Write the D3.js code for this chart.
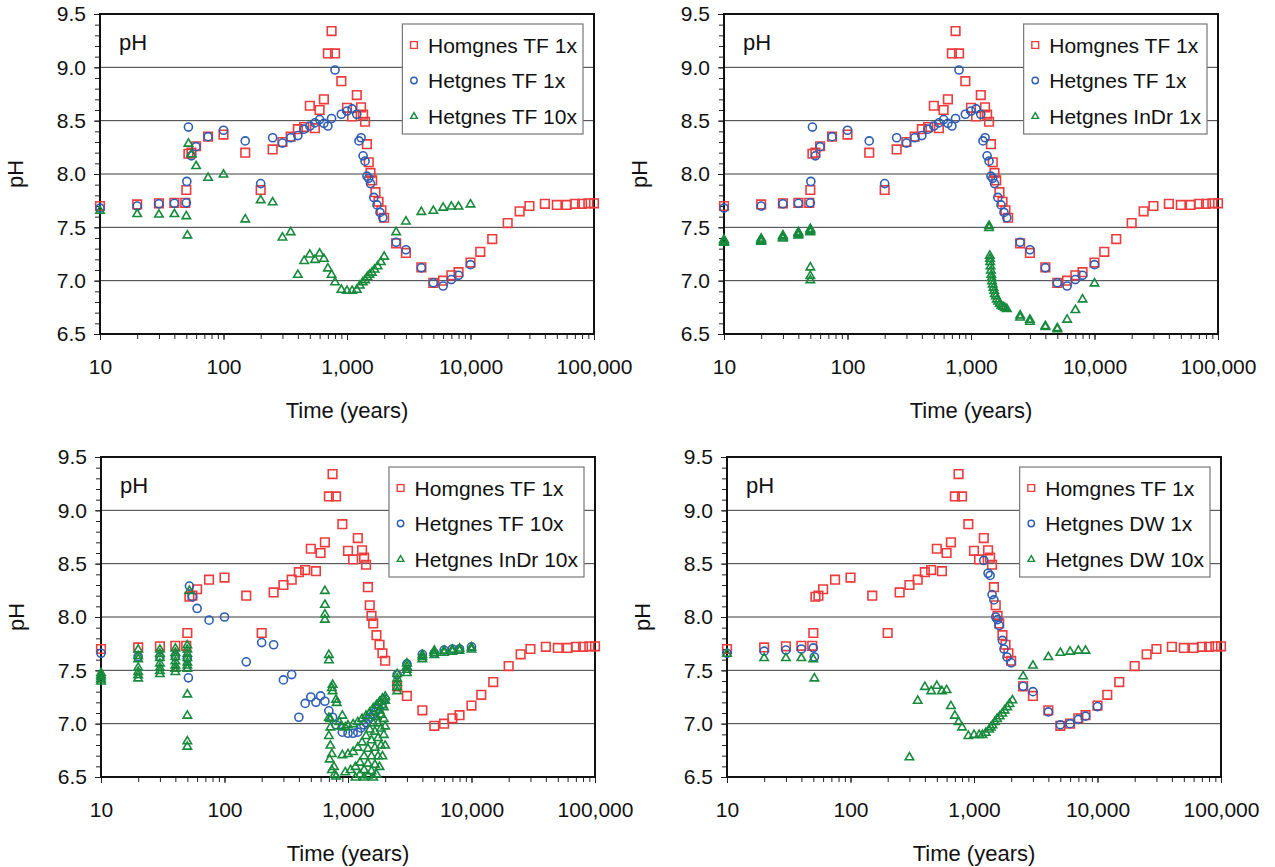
<!DOCTYPE html>
<html>
<head>
<meta charset="utf-8">
<script src="https://cdn.jsdelivr.net/npm/d3@7"></script>
<style>
  html, body { margin: 0; padding: 0; background: #fff; }
  svg { display: block; font-family: "Liberation Sans", Arial, sans-serif; }
</style>
</head>
<body>
<svg id="chart" width="1275" height="867"></svg>
<script>
// ---- axis definitions ----
const xMajorTicks = [10, 100, 1000, 10000, 100000];
const yMajorTicks = [6.5, 7.0, 7.5, 8.0, 8.5, 9.0, 9.5];
const yGridLines = [7.0, 7.5, 8.0, 8.5, 9.0];
const xTitle = "Time (years)";
const yTitle = "pH";

// ---- series: [time (years), pH] ----
const homTF1x = [
  [10,7.70],[20,7.715],[30,7.725],[40,7.73],[49,7.73],[50,7.85],[52,8.19],[55,8.20],[60,8.26],[75,8.35],
  [100,8.37],[150,8.20],[200,7.85],[250,8.23],[300,8.30],[350,8.35],[400,8.42],[450,8.44],[500,8.64],[550,8.43],
  [600,8.60],[650,8.70],[700,9.13],[750,9.34],[800,9.13],[900,8.87],[1000,8.62],[1100,8.54],[1200,8.74],[1300,8.625],
  [1350,8.556],[1400,8.49],[1450,8.28],[1500,8.11],[1550,8.01],[1600,7.94],[1700,7.83],[1800,7.74],[1900,7.66],[2000,7.59],
  [2500,7.35],[3000,7.26],[4000,7.125],[5000,6.98],[6000,7.00],[7000,7.05],[8000,7.08],[10000,7.17],[12000,7.27],[15000,7.39],
  [20000,7.54],[25000,7.65],[30000,7.70],[40000,7.72],[50000,7.71],[60000,7.71],[70000,7.72],[80000,7.72],[90000,7.725],[100000,7.725]
];

const hetTF1x = [
  [10,7.68],[20,7.70],[30,7.72],[40,7.725],[50,7.73],[50.5,7.93],[52,8.44],[55,8.17],[60,8.256],[75,8.35],
  [100,8.41],[150,8.31],[200,7.91],[250,8.34],[300,8.29],[350,8.34],[400,8.36],[450,8.42],[500,8.45],[550,8.48],
  [600,8.51],[650,8.475],[700,8.45],[750,8.52],[800,8.975],[900,8.56],[1000,8.59],[1100,8.61],[1200,8.56],[1250,8.31],
  [1300,8.34],[1350,8.17],[1400,8.12],[1450,7.98],[1500,7.96],[1550,7.91],[1650,7.78],[1750,7.71],[1850,7.64],[1950,7.59],
  [2500,7.36],[3000,7.29],[4000,7.12],[5000,6.98],[6000,6.95],[7000,7.01],[8000,7.05],[10000,7.15]
];

const hetTF10x = [
  [10,7.66],[20,7.63],[30,7.625],[40,7.63],[50,7.61],[51,7.43],[52,8.29],[55,8.19],[60,8.08],[75,7.97],
  [100,8.00],[150,7.58],[200,7.76],[250,7.74],[300,7.41],[350,7.46],[400,7.06],[450,7.19],[500,7.25],[550,7.20],
  [600,7.26],[650,7.21],[700,7.12],[750,7.06],[800,6.99],[900,6.92],[1000,6.91],[1100,6.91],[1200,6.92],[1270,6.96],
  [1340,6.99],[1400,7.01],[1460,7.04],[1520,7.06],[1590,7.08],[1670,7.11],[1770,7.14],[1880,7.18],[2000,7.23],[2500,7.46],
  [3000,7.56],[4000,7.65],[5000,7.66],[6000,7.69],[7000,7.70],[8000,7.70],[10000,7.72]
];

const hetInDr1x = [
  [10,7.36],[10,7.37],[10,7.38],[10,7.39],[20,7.37],[20,7.38],[20,7.39],[20,7.40],
  [30,7.40],[30,7.41],[30,7.42],[30,7.43],[40,7.43],[40,7.44],[40,7.45],[40,7.46],
  [50,7.46],[50,7.47],[50,7.48],[50,7.49],[50,7.13],[50,7.05],[50,7.01],
  [1400,7.50],[1400,7.52],[1420,7.24],[1425,7.21],[1430,7.18],[1440,7.14],[1450,7.10],[1460,7.06],[1470,7.03],
  [1480,7.00],[1500,6.97],[1520,6.94],[1540,6.91],[1560,6.88],[1590,6.86],[1620,6.83],[1660,6.81],[1710,6.79],
  [1760,6.77],[1820,6.76],[1880,6.75],[1950,6.74],[2500,6.68],[2500,6.66],[3000,6.64],[3000,6.62],
  [4000,6.58],[4000,6.57],[5000,6.56],[5000,6.55],[6000,6.64],[7000,6.73],[8000,6.83],[10000,6.98]
];

const hetInDr10x = [
  [10,7.40],[10,7.42],[10,7.44],[10,7.46],[10,7.48],
  [20,7.70],[20,7.64],[20,7.61],[20,7.53],[20,7.49],[20,7.46],[20,7.43],
  [30,7.70],[30,7.66],[30,7.62],[30,7.57],[30,7.53],[30,7.50],[30,7.47],
  [40,7.71],[40,7.67],[40,7.63],[40,7.59],[40,7.55],[40,7.52],[40,7.49],
  [50,7.74],[50,7.70],[50,7.66],[50,7.62],[50,7.58],[50,7.55],[50,7.52],[50,7.28],[50,7.08],[50,6.84],[50,6.79],[52,8.25],
  [650,8.25],[650,8.12],[650,8.03],[650,7.98],[700,7.65],[700,7.60],
  [750,7.37],[740,7.34],[750,7.31],[800,7.23],[810,7.20],
  [700,7.06],[720,7.05],[720,6.97],[700,6.89],[720,6.80],[740,6.72],[710,6.67],[740,6.57],[770,6.60],[800,6.51],[780,6.53],
  [900,7.08],[850,7.02],[880,6.98],[950,6.97],[1000,6.99],[1100,7.00],[1200,7.02],[1300,7.05],[1400,7.08],[1500,7.11],
  [1600,7.15],[1700,7.18],[1800,7.21],[1900,7.24],[2000,7.26],
  [900,6.71],[1000,6.72],[1100,6.74],[1200,6.78],[1300,6.83],[1400,6.89],[1500,6.95],[1600,7.01],[1700,7.07],[1800,7.13],
  [1900,7.18],[2000,7.22],
  [950,6.55],[1050,6.57],[1150,6.60],[1250,6.64],[1350,6.70],[1450,6.77],[1550,6.85],[1650,6.93],[1750,7.01],[1850,7.09],[1950,7.16],
  [1150,6.50],[1250,6.53],[1350,6.57],[1450,6.63],[1550,6.70],[1650,6.78],[1750,6.87],[1850,6.96],[1950,7.05],
  [1350,6.50],[1450,6.52],[1550,6.56],[1650,6.62],[1750,6.70],[1850,6.80],[1950,6.90],[2000,6.98],
  [1600,6.50],[1700,6.53],[1800,6.60],[1900,6.70],[2000,6.80],
  [2500,7.31],[2500,7.35],[2500,7.39],[2500,7.43],[2500,7.47],
  [3000,7.48],[3000,7.51],[3000,7.54],[3000,7.57],
  [4000,7.61],[4000,7.63],[4000,7.65],[5000,7.65],[5000,7.67],[5000,7.69],
  [6000,7.67],[6000,7.69],[7000,7.68],[7000,7.70],[8000,7.69],[8000,7.71],[10000,7.70],[10000,7.72]
];

const hetDW1x = [
  [10,7.66],[20,7.68],[30,7.69],[40,7.70],[50,7.71],[51,7.625],
  [1200,8.53],[1300,8.41],[1350,8.39],[1400,8.21],[1450,8.16],[1500,8.00],[1550,7.975],[1600,7.92],[1700,7.78],
  [1750,7.70],[1850,7.625],[2000,7.57],[2500,7.35],[3000,7.30],[4000,7.11],[5000,6.99],[6000,7.00],[7000,7.04],
  [8000,7.07],[10000,7.16]
];

const hetDW10x = [
  [10,7.66],[20,7.62],[30,7.62],[40,7.62],[50,7.61],[51,7.43],
  [300,6.69],[350,7.22],[400,7.35],[450,7.31],[500,7.36],[550,7.31],[600,7.32],[650,7.17],[700,7.08],[750,7.02],
  [800,6.97],[900,6.89],[1000,6.90],[1100,6.90],[1170,6.90],[1245,6.92],[1325,6.95],[1366,6.97],[1410,6.99],[1473,7.02],
  [1538,7.05],[1614,7.075],[1694,7.10],[1768,7.13],[1856,7.16],[1940,7.19],[2046,7.225],
  [2500,7.45],[3000,7.55],[4000,7.63],[5000,7.67],[6000,7.68],[7000,7.69],[8000,7.69]
];

// ---- legend labels for each panel ----
const legendTopLeft = ["Homgnes TF 1x", "Hetgnes TF 1x", "Hetgnes TF 10x"];
const legendTopRight = ["Homgnes TF 1x", "Hetgnes TF 1x", "Hetgnes InDr 1x"];
const legendBottomLeft = ["Homgnes TF 1x", "Hetgnes TF 10x", "Hetgnes InDr 10x"];
const legendBottomRight = ["Homgnes TF 1x", "Hetgnes DW 1x", "Hetgnes DW 10x"];

// ---- styling ----
const RED = "#ee3b3b", BLUE = "#2d5eb3", GREEN = "#178a3b";
const W = 494, H = 320;

const panels = [
  { left: 100, top: 14, series: [[homTF1x, "square"], [hetTF1x, "circle"], [hetTF10x, "triangle"]], legend: legendTopLeft },
  { left: 724, top: 14, series: [[homTF1x, "square"], [hetTF1x, "circle"], [hetInDr1x, "triangle"]], legend: legendTopRight },
  { left: 101, top: 457, series: [[homTF1x, "square"], [hetTF10x, "circle"], [hetInDr10x, "triangle"]], legend: legendBottomLeft },
  { left: 727, top: 457, series: [[homTF1x, "square"], [hetDW1x, "circle"], [hetDW10x, "triangle"]], legend: legendBottomRight }
];

const shapeColor = { square: RED, circle: BLUE, triangle: GREEN };

function shapePath(shape, s) {
  if (shape === "square") {
    const h = s / 2;
    return `M${-h},${-h}h${s}v${s}h${-s}Z`;
  }
  if (shape === "circle") {
    const r = s * 0.47;
    return `M${r},0A${r},${r} 0 1,1 ${-r},0A${r},${r} 0 1,1 ${r},0Z`;
  }
  const w = s * 0.98, h = s * 0.84;
  return `M0,${-h * 0.58}L${w / 2},${h * 0.42}L${-w / 2},${h * 0.42}Z`;
}

const svg = d3.select("#chart");

panels.forEach(p => {
  const g = svg.append("g").attr("transform", `translate(${p.left},${p.top})`);
  const x = d3.scaleLog().domain([10, 100000]).range([0, W]);
  const y = d3.scaleLinear().domain([6.5, 9.5]).range([H, 0]);

  // horizontal gridlines
  g.append("g").selectAll("line").data(yGridLines).join("line")
    .attr("x1", 0).attr("x2", W)
    .attr("y1", d => y(d)).attr("y2", d => y(d))
    .attr("stroke", "#3a3a3a").attr("stroke-width", 1);

  // minor ticks
  const xMinor = g.append("g").attr("transform", `translate(0,${H})`)
    .call(d3.axisBottom(x).tickValues(x.ticks()).tickSize(5).tickFormat(""));
  const yMinor = g.append("g")
    .call(d3.axisLeft(y).tickValues(y.ticks(30)).tickSize(5).tickFormat(""));

  // major ticks with labels
  const xAxis = g.append("g").attr("transform", `translate(0,${H})`)
    .call(d3.axisBottom(x).tickValues(xMajorTicks).tickSize(6).tickPadding(19).tickFormat(d3.format(",")));
  const yAxis = g.append("g")
    .call(d3.axisLeft(y).tickValues(yMajorTicks).tickSize(6).tickPadding(8).tickFormat(d3.format(".1f")));

  [xMinor, yMinor, xAxis, yAxis].forEach(a => {
    a.select(".domain").remove();
    a.selectAll("line").attr("stroke", "#222").attr("stroke-width", 1);
    a.selectAll("text").attr("font-size", 21).attr("fill", "#111")
      .attr("font-family", "\"Liberation Sans\", Arial, sans-serif");
  });

  // plot frame
  g.append("rect").attr("x", 0).attr("y", 0).attr("width", W).attr("height", H)
    .attr("fill", "none").attr("stroke", "#111").attr("stroke-width", 2);

  // axis titles
  g.append("text").attr("x", W / 2).attr("y", H + 84).attr("text-anchor", "middle")
    .attr("font-size", 22).attr("fill", "#111").text(xTitle);
  g.append("text").attr("transform", `translate(-77,${H / 2}) rotate(-90)`)
    .attr("text-anchor", "middle").attr("font-size", 22).attr("fill", "#111").text(yTitle);

  // in-plot label
  g.append("text").attr("x", 19).attr("y", 36).attr("font-size", 22).attr("fill", "#111").text(yTitle);

  // data markers
  p.series.forEach(([data, shape]) => {
    g.append("g").selectAll("path").data(data).join("path")
      .attr("transform", d => `translate(${x(d[0])},${y(d[1])})`)
      .attr("d", shapePath(shape, 8.6))
      .attr("fill", "none")
      .attr("stroke", shapeColor[shape])
      .attr("stroke-width", 1.6);
  });

  // legend
  const lg = g.append("g");
  const box = lg.append("rect").attr("fill", "#fff").attr("stroke", "#777").attr("stroke-width", 1.2);
  const rowGap = 35.5, firstBase = 28.5;
  const texts = [];
  p.series.forEach(([data, shape], i) => {
    const t = lg.append("text").attr("x", 25.6).attr("y", firstBase + i * rowGap)
      .attr("font-size", 21).attr("fill", "#111").text(p.legend[i]);
    texts.push(t);
    lg.append("path")
      .attr("transform", `translate(11.6,${firstBase + i * rowGap - 7.5})`)
      .attr("d", shapePath(shape, 6.8))
      .attr("fill", "none").attr("stroke", shapeColor[shape]).attr("stroke-width", 1.4);
  });
  const maxW = d3.max(texts, t => t.node().getComputedTextLength());
  const boxW = 25.6 + maxW + 6;
  box.attr("x", 0).attr("y", 0).attr("width", boxW).attr("height", 110);
  lg.attr("transform", `translate(${483 - boxW},10)`);
});
</script>
</body>
</html>
